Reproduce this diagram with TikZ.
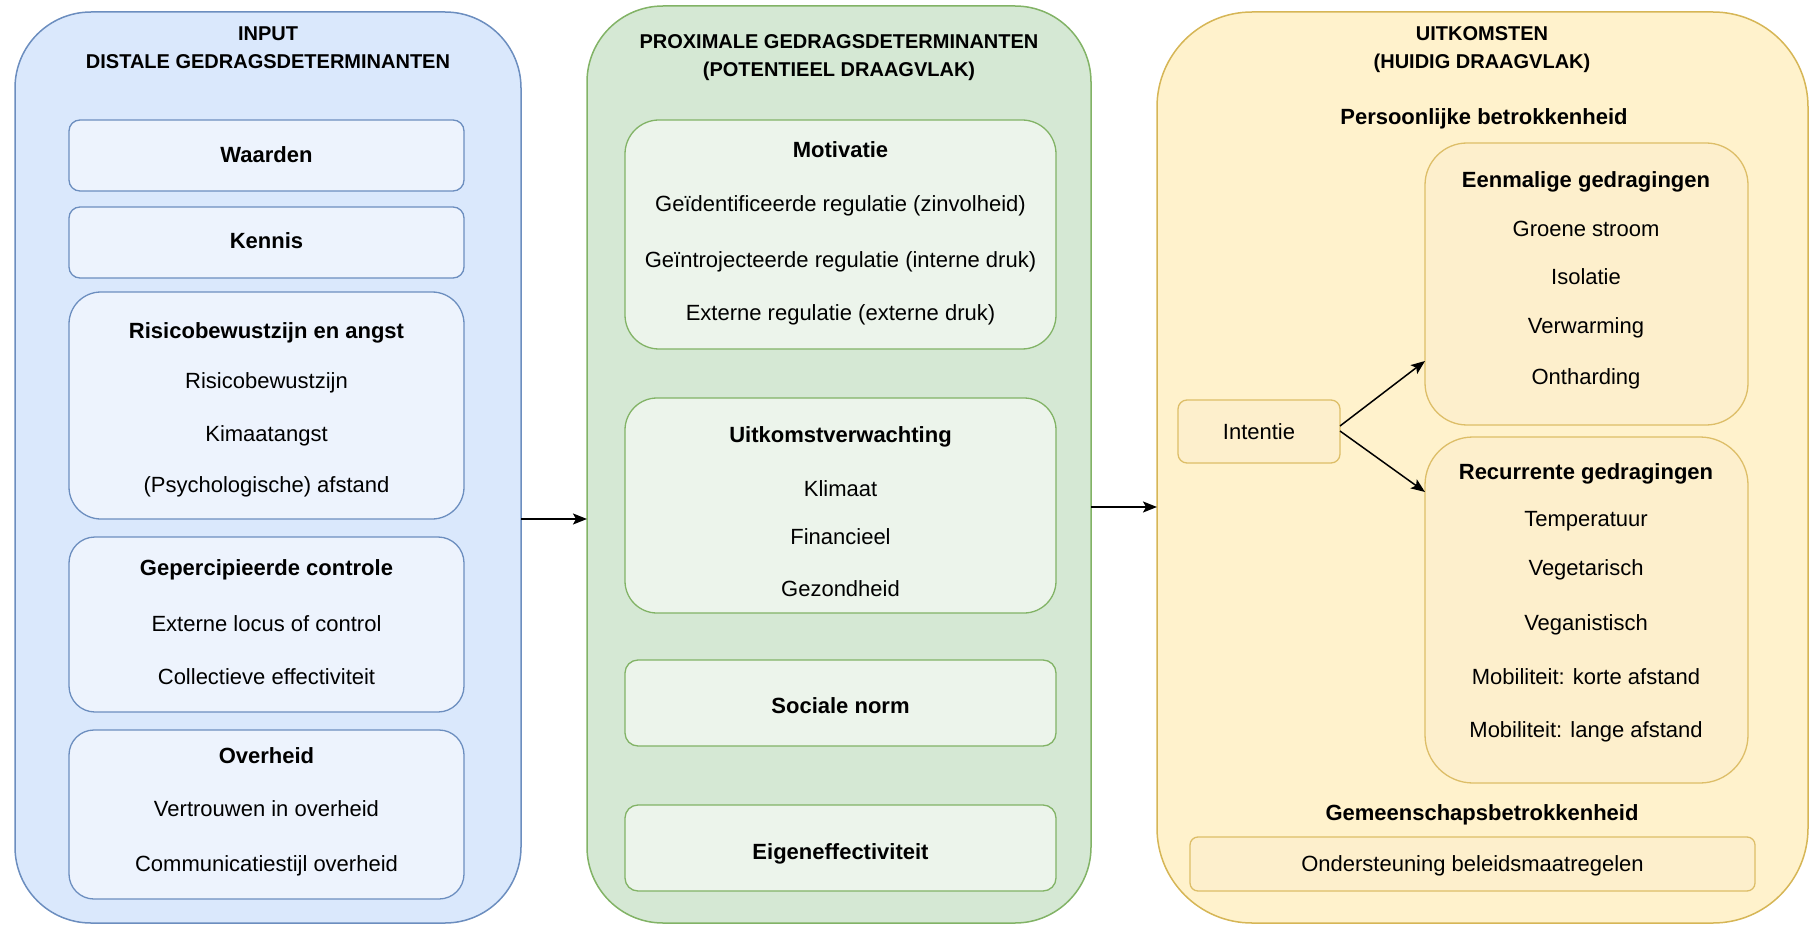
\documentclass[tikz,border=0pt]{standalone}
\usepackage{fontspec}
\setmainfont{Liberation Sans}
\usetikzlibrary{arrows.meta}
\definecolor{bfill}{HTML}{DAE8FC}
\definecolor{bline}{HTML}{6C8EBF}
\definecolor{binner}{HTML}{EDF3FD}
\definecolor{gfill}{HTML}{D5E8D4}
\definecolor{gline}{HTML}{82B366}
\definecolor{ginner}{HTML}{ECF4EB}
\definecolor{yfill}{HTML}{FFF2CC}
\definecolor{yline}{HTML}{D6B656}
\definecolor{yinner}{HTML}{FDEFCC}
\definecolor{yinline}{HTML}{DDBE68}
\begin{document}
\begin{tikzpicture}[x=1pt,y=-1pt,
  box/.style={inner sep=0pt, outer sep=0pt, anchor=north west},
  bpanel/.style={box, draw=bline, fill=bfill, line width=1.5pt},
  gpanel/.style={box, draw=gline, fill=gfill, line width=1.5pt},
  ypanel/.style={box, draw=yline, fill=yfill, line width=1.5pt},
  bbox/.style={box, draw=bline, fill=binner, line width=1.3pt},
  gbox/.style={box, draw=gline, fill=ginner, line width=1.3pt},
  ybox/.style={box, draw=yinline, fill=yinner, line width=1.3pt},
  lbl/.style={inner sep=0pt, anchor=base, font=\fontsize{22}{26}\selectfont},
  blbl/.style={inner sep=0pt, anchor=base, font=\fontsize{22}{26}\selectfont\bfseries},
  ttl/.style={inner sep=0pt, anchor=base, font=\fontsize{20}{24}\selectfont\bfseries},
  arr/.style={line width=1.5pt, -{Stealth[length=14pt,width=11pt,inset=3pt]}}
]
\useasboundingbox (0,0) rectangle (1810,925);

% ---------- blue panel ----------
\node[bpanel, rounded corners=76pt, minimum width=506pt, minimum height=911pt] (blue) at (15,12) {};
\node[ttl] (bt1) at (268,41) {INPUT};
\node[ttl] (bt2) at (268,69) {DISTALE GEDRAGSDETERMINANTEN};

\node[bbox, rounded corners=11pt, minimum width=395pt, minimum height=71pt] (waarden) at (69,120) {};
\node[blbl] (waardent) at (266.5,163) {Waarden};
\node[bbox, rounded corners=11pt, minimum width=395pt, minimum height=71pt] (kennis) at (69,207) {};
\node[blbl] (kennist) at (266.5,249) {Kennis};

\node[bbox, rounded corners=32pt, minimum width=395pt, minimum height=227pt] (risico) at (69,292) {};
\node[blbl] (r1) at (266.5,338) {Risicobewustzijn en angst};
\node[lbl] (r2) at (266.5,388) {Risicobewustzijn};
\node[lbl] (r3) at (266.5,441) {Kimaatangst};
\node[lbl] (r4) at (266.5,492) {(Psychologische) afstand};

\node[bbox, rounded corners=26pt, minimum width=395pt, minimum height=175pt] (controle) at (69,537) {};
\node[blbl] (c1) at (266.5,575) {Gepercipieerde controle};
\node[lbl] (c2) at (266.5,631) {Externe locus of control};
\node[lbl] (c3) at (266.5,684) {Collectieve effectiviteit};

\node[bbox, rounded corners=25pt, minimum width=395pt, minimum height=169pt] (overheid) at (69,730) {};
\node[blbl] (o1) at (266.5,763) {Overheid};
\node[lbl] (o2) at (266.5,816) {Vertrouwen in overheid};
\node[lbl] (o3) at (266.5,871) {Communicatiestijl overheid};

% ---------- green panel ----------
\node[gpanel, rounded corners=76pt, minimum width=504pt, minimum height=917pt] (green) at (587,6) {};
\node[ttl] (gt1) at (839,49) {PROXIMALE GEDRAGSDETERMINANTEN};
\node[ttl] (gt2) at (839,77) {(POTENTIEEL DRAAGVLAK)};

\node[gbox, rounded corners=34pt, minimum width=431pt, minimum height=229pt] (motivatie) at (625,120) {};
\node[blbl] (m1) at (840.5,158) {Motivatie};
\node[lbl] (m2) at (840.5,212) {Geïdentificeerde regulatie (zinvolheid)};
\node[lbl] (m3) at (840.5,268) {Geïntrojecteerde regulatie (interne druk)};
\node[lbl] (m4) at (840.5,320) {Externe regulatie (externe druk)};

\node[gbox, rounded corners=32pt, minimum width=431pt, minimum height=215pt] (uitkomst) at (625,398) {};
\node[blbl] (u1) at (840.5,442) {Uitkomstverwachting};
\node[lbl] (u2) at (840.5,496) {Klimaat};
\node[lbl] (u3) at (840.5,544) {Financieel};
\node[lbl] (u4) at (840.5,596) {Gezondheid};

\node[gbox, rounded corners=13pt, minimum width=431pt, minimum height=86pt] (sociale) at (625,660) {};
\node[blbl] (s1) at (840.5,713) {Sociale norm};
\node[gbox, rounded corners=13pt, minimum width=431pt, minimum height=86pt] (eigen) at (625,805) {};
\node[blbl] (e1) at (840.5,859) {Eigeneffectiviteit};

% ---------- yellow panel ----------
\node[ypanel, rounded corners=95pt, minimum width=651pt, minimum height=911pt] (yellow) at (1157,12) {};
\node[ttl] (yt1) at (1482,41) {UITKOMSTEN};
\node[ttl] (yt2) at (1482,69) {(HUIDIG DRAAGVLAK)};
\node[blbl] (pb) at (1484,125) {Persoonlijke betrokkenheid};

\node[ybox, rounded corners=42pt, minimum width=323pt, minimum height=282pt] (eenm) at (1425,143) {};
\node[blbl] (en1) at (1586,188) {Eenmalige gedragingen};
\node[lbl] (en2) at (1586,237) {Groene stroom};
\node[lbl] (en3) at (1586,285) {Isolatie};
\node[lbl] (en4) at (1586,334) {Verwarming};
\node[lbl] (en5) at (1586,384) {Ontharding};

\node[ybox, rounded corners=48pt, minimum width=323pt, minimum height=346pt] (recur) at (1425,437) {};
\node[blbl] (rc1) at (1586,479) {Recurrente gedragingen};
\node[lbl] (rc2) at (1586,526) {Temperatuur};
\node[lbl] (rc3) at (1586,575) {Vegetarisch};
\node[lbl] (rc4) at (1586,630) {Veganistisch};
\node[lbl] (rc5) at (1586,684) {Mobiliteit: korte afstand};
\node[lbl] (rc6) at (1586,737) {Mobiliteit: lange afstand};

\node[ybox, rounded corners=9pt, minimum width=162pt, minimum height=63pt] (intentie) at (1178,400) {};
\node[lbl] (intt) at (1259,439) {Intentie};

\node[blbl] (gb) at (1482,820) {Gemeenschapsbetrokkenheid};
\node[ybox, rounded corners=8pt, minimum width=565pt, minimum height=54pt] (onder) at (1190,837) {};
\node[lbl] (ondt) at (1472.5,871) {Ondersteuning beleidsmaatregelen};

% ---------- connectors ----------
\coordinate (a1s) at (521,519);
\coordinate (a1e) at (587,519);
\coordinate (a2s) at (1091,507);
\coordinate (a2e) at (1157,507);
\coordinate (i1) at (1340,426);
\coordinate (i2) at (1340,431);
\coordinate (ee) at (1425,361);
\coordinate (re) at (1425,492);
\draw[arr] (a1s) -- (a1e);
\draw[arr] (a2s) -- (a2e);
\draw[arr] (i1) -- (ee);
\draw[arr] (i2) -- (re);
\end{tikzpicture}
\end{document}
